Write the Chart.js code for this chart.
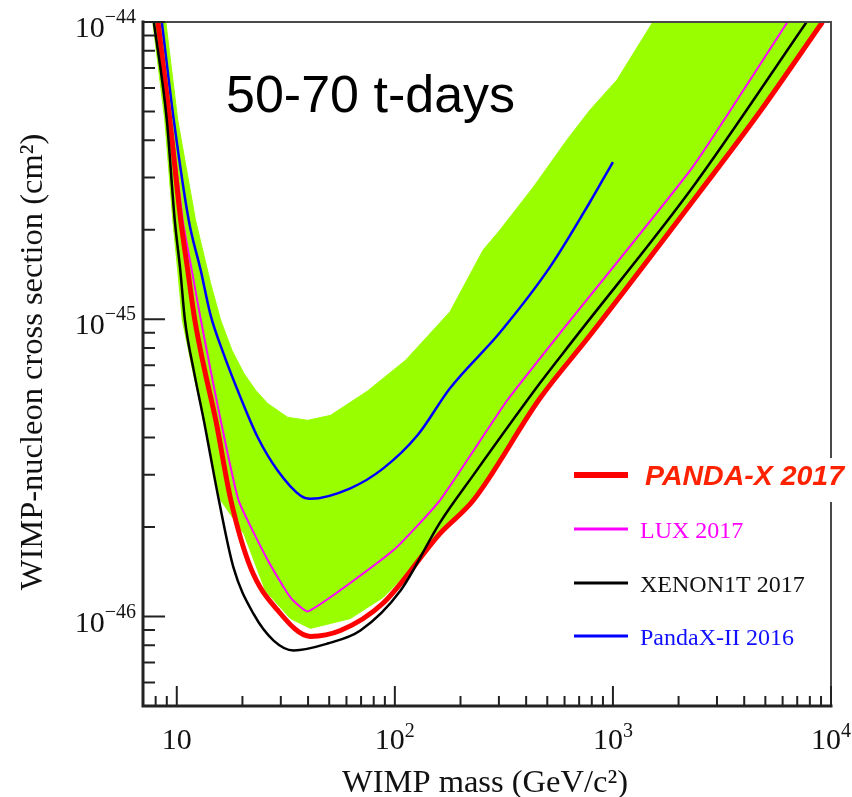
<!DOCTYPE html>
<html>
<head>
<meta charset="utf-8">
<title>WIMP-nucleon cross section limits</title>
<script src="https://cdn.jsdelivr.net/npm/chart.js@4.4.0/dist/chart.umd.min.js"></script>
<style>
  html, body { margin: 0; padding: 0; background: #fff; }
  #wrap { width: 852px; height: 797px; }
</style>
</head>
<body>
<div id="wrap"><canvas id="limitChart" width="852" height="797"></canvas></div>
<script>
// ============================================================
// Data (mass in GeV/c^2, cross section in cm^2)
// ============================================================

// PANDA-X 2017 projection (red)
const pandaX17Mass  = [8.19, 9.29, 10.43, 11.23, 12.1, 13.43, 15.1, 17.7, 21.8, 29.0, 41.0, 56.3, 88.5, 161, 229, 463, 785, 2500, 4710, 9140];
const pandaX17Sigma = [1e-44, 4.68e-45, 2.15e-45, 1.46e-45, 9.93e-46, 6.73e-46, 4.57e-46, 2.46e-46, 1.46e-46, 1.05e-46, 8.57e-47, 8.97e-47, 1.11e-46, 1.90e-46, 2.46e-46, 5.42e-46, 8.83e-46, 2.68e-45, 4.98e-45, 1e-44];

// LUX 2017 (magenta)
const lux17Mass  = [8.27, 9.39, 10.65, 11.72, 12.9, 14.3, 15.9, 19.2, 26.1, 33.2, 40.0, 98.4, 161, 327, 571, 2320, 6320];
const lux17Sigma = [1e-44, 4.68e-45, 2.15e-45, 1.46e-45, 9.93e-46, 6.73e-46, 4.57e-46, 2.46e-46, 1.55e-46, 1.16e-46, 1.04e-46, 1.67e-46, 2.46e-46, 5.33e-46, 8.97e-46, 3.25e-45, 1e-44];

// XENON1T 2017 (black)
const xenon1t17Mass  = [7.85, 9.00, 9.79, 10.38, 10.9, 11.96, 13.3, 15.6, 18.2, 22.5, 27.8, 34.3, 49.1, 69.5, 106, 161, 229, 463, 656, 2320, 7730];
const xenon1t17Sigma = [1e-44, 4.68e-45, 2.15e-45, 1.46e-45, 9.93e-46, 6.73e-46, 4.57e-46, 2.46e-46, 1.46e-46, 1.02e-46, 8.30e-47, 7.69e-47, 8.11e-47, 8.97e-47, 1.22e-46, 2.07e-46, 2.99e-46, 6.10e-46, 8.49e-46, 2.78e-45, 1e-44];

// PandaX-II 2016 (blue)
const pandax2016Mass  = [8.54, 9.69, 11.35, 12.88, 14.3, 16.3, 19.6, 23.5, 29.0, 37.0, 41.0, 62.5, 88.5, 127, 179, 304, 515, 785, 1000];
const pandax2016Sigma = [1e-44, 4.68e-45, 2.15e-45, 1.46e-45, 1.03e-45, 7.74e-46, 5.46e-46, 4.01e-46, 3.10e-46, 2.55e-46, 2.49e-46, 2.70e-46, 3.15e-46, 4.07e-46, 5.86e-46, 9.04e-46, 1.50e-45, 2.48e-45, 3.38e-45];

// sensitivity band (green) - upper and lower edges
const bandUpperMass  = [8.91, 10.1, 12.2, 14.3, 15.9, 17.9, 20.3, 23.0, 26.1, 32.2, 39.8, 50.7, 74.8, 112, 179, 254, 304, 431, 615, 785, 1043, 1524];
const bandUpperSigma = [1e-44, 4.68e-45, 2.15e-45, 1.32e-45, 9.93e-46, 7.87e-46, 6.58e-46, 5.77e-46, 5.21e-46, 4.68e-46, 4.57e-46, 4.75e-46, 5.73e-46, 7.28e-46, 1.06e-45, 1.71e-45, 2.00e-45, 2.78e-45, 4.01e-45, 5.06e-45, 6.38e-45, 1e-44];
const bandLowerMass  = [7.76, 8.81, 9.59, 10.1, 10.6, 11.83, 13.3, 15.9, 20.3, 25.5, 33.2, 41.0, 62.5, 88.5, 114, 161, 229, 463, 785, 2500, 4710, 9140];
const bandLowerSigma = [1e-44, 4.68e-45, 2.15e-45, 1.46e-45, 9.93e-46, 6.73e-46, 4.57e-46, 2.46e-46, 1.90e-46, 1.22e-46, 9.84e-47, 9.12e-47, 9.84e-47, 1.16e-46, 1.40e-46, 1.90e-46, 2.46e-46, 5.42e-46, 8.83e-46, 2.68e-45, 4.98e-45, 1e-44];

// axis ticks / labels
const xMajorTicks  = [10, 100, 1000, 10000];
const xTickExps    = ['', '2', '3', '4'];
const yMajorTicks  = [1e-46, 1e-45, 1e-44];
const yTickExps    = ['\u221246', '\u221245', '\u221244'];

const exposureText = '50-70 t-days';

// ============================================================

const SERIF = '"Liberation Serif", "Times New Roman", serif';
const SANS  = '"Liberation Sans", Arial, sans-serif';

function toPoints(xs, ys) {
  return xs.map((m, i) => ({ x: m, y: ys[i] }));
}

// closed outline of the band: upper edge left->right, then lower edge right->left
const bandPoints = toPoints(bandUpperMass, bandUpperSigma)
  .concat(toPoints(bandLowerMass, bandLowerSigma).reverse());

const legendStyle = [
  { font: `italic bold 28.5px ${SANS}`, textColor: '#ff2200', lineWidth: 6, textX: 645, lineY: 475, dy: 10 },
  { font: `24px ${SERIF}`, textColor: '#ff00ff', lineWidth: 3, textX: 640, lineY: 529, dy: 9 },
  { font: `24px ${SERIF}`, textColor: '#111111', lineWidth: 3, textX: 640, lineY: 583, dy: 9 },
  { font: `24px ${SERIF}`, textColor: '#1010ff', lineWidth: 3, textX: 640, lineY: 636, dy: 9 },
];

function drawPow(ctx, base, exp, x, y, baseFont, expFont, expRise, align) {
  ctx.font = baseFont;
  const bw = ctx.measureText(base).width;
  ctx.font = expFont;
  const ew = exp ? ctx.measureText(exp).width : 0;
  let left = x;
  if (align === 'center') left = x - (bw + ew) / 2;
  else if (align === 'right') left = x - bw - ew;
  ctx.textAlign = 'left';
  ctx.font = baseFont;
  ctx.fillText(base, left, y);
  if (exp) {
    ctx.font = expFont;
    ctx.fillText(exp, left + bw, y - expRise);
  }
}

const decorPlugin = {
  id: 'decor',
  afterDatasetsDraw(chart) {
    const { ctx, chartArea: a, scales: { x, y } } = chart;
    ctx.save();

    // frame: heavy left/bottom axes, lighter top/right
    ctx.lineCap = 'square';
    ctx.strokeStyle = '#4a4a4a';
    ctx.lineWidth = 2;
    ctx.beginPath();
    ctx.moveTo(a.left, a.top); ctx.lineTo(a.right, a.top); ctx.lineTo(a.right, a.bottom);
    ctx.stroke();
    ctx.strokeStyle = '#222';
    ctx.lineWidth = 3;
    ctx.beginPath();
    ctx.moveTo(a.left, a.top); ctx.lineTo(a.left, a.bottom); ctx.lineTo(a.right, a.bottom);
    ctx.stroke();
    ctx.lineCap = 'butt';

    // inward tick marks
    ctx.lineWidth = 2;
    ctx.beginPath();
    for (let d = 0; d <= 4; d++) {
      for (let k = 1; k <= 9; k++) {
        const v = k * Math.pow(10, d);
        if (v < x.min || v > x.max) continue;
        const px = x.getPixelForValue(v);
        const len = k === 1 ? 20 : 10;
        ctx.moveTo(px, a.bottom);
        ctx.lineTo(px, a.bottom - len);
      }
    }
    for (let d = -47; d <= -44; d++) {
      for (let k = 1; k <= 9; k++) {
        const v = k * Math.pow(10, d);
        if (v < y.min * 0.999 || v > y.max * 1.001) continue;
        const py = y.getPixelForValue(v);
        const len = k === 1 ? 22 : 12;
        ctx.moveTo(a.left, py);
        ctx.lineTo(a.left + len, py);
      }
    }
    ctx.stroke();

    // tick labels
    ctx.fillStyle = '#111';
    ctx.textBaseline = 'alphabetic';
    xMajorTicks.forEach((v, i) => {
      drawPow(ctx, '10', xTickExps[i], x.getPixelForValue(v), a.bottom + 43,
        `30px ${SERIF}`, `20px ${SERIF}`, 12, 'center');
    });
    yMajorTicks.forEach((v, i) => {
      const py = y.getPixelForValue(v);
      drawPow(ctx, '10', yTickExps[i], a.left - 7, py + 15,
        `30px ${SERIF}`, `20px ${SERIF}`, 14, 'right');
    });

    // axis titles
    ctx.font = `32.5px ${SERIF}`;
    ctx.textAlign = 'center';
    ctx.fillText('WIMP mass (GeV/c\u00b2)', (a.left + a.right) / 2 - 2, 792);
    ctx.save();
    ctx.translate(42, (a.top + a.bottom) / 2 - 2);
    ctx.rotate(-Math.PI / 2);
    ctx.fillText('WIMP-nucleon cross section (cm\u00b2)', 0, 0);
    ctx.restore();

    // exposure label
    ctx.font = `52px ${SANS}`;
    ctx.textAlign = 'left';
    ctx.fillStyle = '#000';
    ctx.fillText(exposureText, 226, 112);

    // legend
    const items = chart.data.datasets.filter(ds => ds.inLegend);
    items.forEach((ds, i) => {
      const st = legendStyle[i];
      if (i === 0) {
        ctx.fillStyle = '#fff';
        ctx.fillRect(634, st.lineY - 17, 218, 44);
      }
      ctx.strokeStyle = ds.borderColor;
      ctx.lineWidth = st.lineWidth;
      ctx.beginPath();
      ctx.moveTo(574, st.lineY);
      ctx.lineTo(628, st.lineY);
      ctx.stroke();
      ctx.font = st.font;
      ctx.fillStyle = st.textColor;
      ctx.textAlign = 'left';
      ctx.fillText(ds.label, st.textX, st.lineY + st.dy);
    });

    ctx.restore();
  }
};

const lineDefaults = { pointRadius: 0, fill: false, cubicInterpolationMode: 'monotone', inLegend: true };

new Chart(document.getElementById('limitChart'), {
  type: 'line',
  data: {
    datasets: [
      { ...lineDefaults, label: 'PANDA-X 2017', data: toPoints(pandaX17Mass, pandaX17Sigma), borderColor: '#ff0000', borderWidth: 5, order: 2 },
      { ...lineDefaults, label: 'LUX 2017', data: toPoints(lux17Mass, lux17Sigma), borderColor: '#ff00ff', borderWidth: 2, order: 3, cubicInterpolationMode: 'default', tension: 0.15 },
      { ...lineDefaults, label: 'XENON1T 2017', data: toPoints(xenon1t17Mass, xenon1t17Sigma), borderColor: '#000000', borderWidth: 2.5, order: 1 },
      { ...lineDefaults, label: 'PandaX-II 2016', data: toPoints(pandax2016Mass, pandax2016Sigma), borderColor: '#0000ff', borderWidth: 2.5, order: 4 },
      { label: 'band', data: bandPoints, inLegend: false, pointRadius: 0, tension: 0,
        borderColor: '#99ff00', borderWidth: 1, backgroundColor: '#99ff00', fill: 'shape', order: 10 },
    ]
  },
  options: {
    responsive: false,
    animation: false,
    layout: { padding: { left: 143, right: 21, top: 22, bottom: 91 } },
    plugins: { legend: { display: false }, tooltip: { enabled: false } },
    scales: {
      x: { type: 'logarithmic', min: 7, max: 10000, display: false },
      y: { type: 'logarithmic', min: 5e-47, max: 1e-44, display: false }
    }
  },
  plugins: [decorPlugin]
});
</script>
</body>
</html>
